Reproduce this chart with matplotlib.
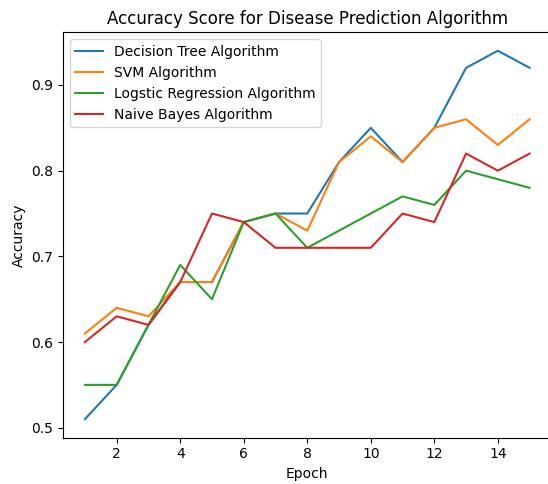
import matplotlib
matplotlib.use("Agg")
import matplotlib.pyplot as plt

epochs = list(range(1, 16))

decision_tree = [0.51, 0.55, 0.62, 0.67, 0.67, 0.74, 0.75, 0.75, 0.81, 0.85, 0.81, 0.85, 0.92, 0.94, 0.92]
svm = [0.61, 0.64, 0.63, 0.67, 0.67, 0.74, 0.75, 0.73, 0.81, 0.84, 0.81, 0.85, 0.86, 0.83, 0.86]
logistic = [0.55, 0.55, 0.62, 0.69, 0.65, 0.74, 0.75, 0.71, 0.73, 0.75, 0.77, 0.76, 0.80, 0.79, 0.78]
naive_bayes = [0.60, 0.63, 0.62, 0.67, 0.75, 0.74, 0.71, 0.71, 0.71, 0.71, 0.75, 0.74, 0.82, 0.80, 0.82]

fig = plt.figure(figsize=(5.48, 4.84), dpi=100)
ax = fig.add_axes([0.1144, 0.0959, 0.8926, 0.8374])

ax.plot(epochs, decision_tree, label="Decision Tree Algorithm")
ax.plot(epochs, svm, label="SVM Algorithm")
ax.plot(epochs, logistic, label="Logstic Regression Algorithm")
ax.plot(epochs, naive_bayes, label="Naive Bayes Algorithm")

ax.set_title("Accuracy Score for Disease Prediction Algorithm")
ax.set_xlabel("Epoch")
ax.set_ylabel("Accuracy")
ax.legend(loc="upper left")

fig.savefig("out.png", dpi=100)
